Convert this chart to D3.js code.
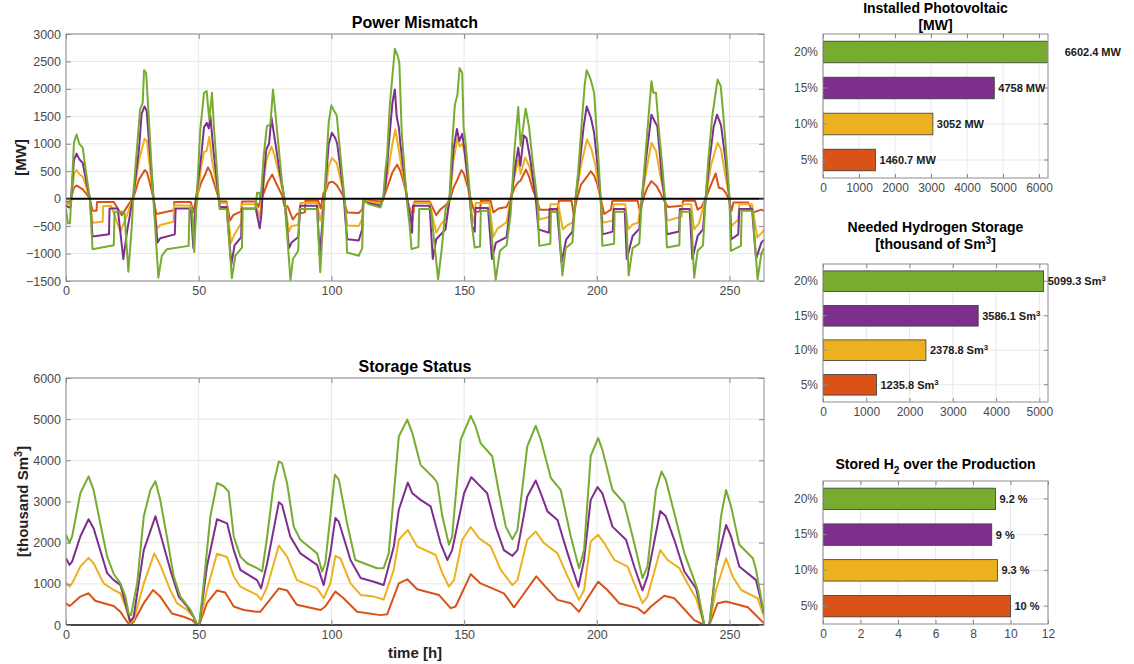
<!DOCTYPE html>
<html>
<head>
<meta charset="utf-8">
<title>PV and hydrogen storage</title>
<script src="https://cdn.jsdelivr.net/npm/d3@7"></script>
<style>
    body { margin: 0; background: #ffffff; }
    svg { font-family: "Liberation Sans", Arial, Helvetica, sans-serif; }
</style>
</head>
<body>
<svg id="chart" width="1134" height="664"></svg>
<script>
/*global d3*/

//share levels and the matlab colours used for them
var levels = ["5%", "10%", "15%", "20%"],
    levelColors = ["#D95319", "#EDB120", "#7E2F8E", "#77AC30"];

//right hand bar charts
var pvInstalled = [1460.7, 3052, 4758, 6602.4],          // [MW]
    h2Needed = [1235.8, 2378.8, 3586.1, 5099.3],         // [thousand Sm3]
    h2StoredShare = [10, 9.3, 9, 9.2];                   // [%]

//tick values
var hourTicks = [0, 50, 100, 150, 200, 250],
    mismatchTicks = [-1500, -1000, -500, 0, 500, 1000, 1500, 2000, 2500, 3000],
    storageTicks = [0, 1000, 2000, 3000, 4000, 5000, 6000],
    pvTicks = [0, 1000, 2000, 3000, 4000, 5000, 6000],
    h2Ticks = [0, 1000, 2000, 3000, 4000, 5000],
    shareTicks = [0, 2, 4, 6, 8, 10, 12];

var mismatch5 = [[0, -50], [1.5, -60], [3, 200], [4, 240], [5, 210], [6.3, 170], [7.5, 100], [9, 0], [10, -220], [11.5, -220], [11.7, -60], [18, -60], [21, -300], [23, -150],
    [25.5, 30], [27.5, 350], [29.7, 520], [30.5, 480], [31.5, 300], [33, 0], [34, -280], [40.6, -210], [40.8, -60], [47, -60], [48, -250], [49, 0],
    [51, 300], [52.5, 450], [53.5, 570], [54.5, 480], [56, 250], [57.9, -50], [60.5, -50], [61.8, -400], [63, -300], [66, -230], [66.3, -50], [71.5, -50], [72.5, -150], [73.5, 0],
    [74.5, 100], [76, 300], [77.7, 440], [79, 300], [81.5, 50], [82.3, -140], [83.5, -140], [85.5, -380], [87, -280], [90, -250], [90.2, -40], [95, -40], [96, -180], [97, 100],
    [98, 150], [99, 290], [100.5, 310], [102, 250], [104.5, 50], [105.3, -150], [106, -250], [110.3, -260], [111.6, -200], [112.1, -20], [114, -30], [118.5, -50], [119.5, 0],
    [121, 200], [123, 480], [124.8, 620], [126, 500], [128, 150], [129, -100], [130, -250], [131, -250], [131.3, -50], [137, -50], [139.5, -300], [141, -200], [143.5, -100], [144.8, 0],
    [146, 200], [147.5, 350], [149, 520], [150, 450], [152, 100], [153, -100], [154, -250], [156, -230], [156.3, -40], [160, -40], [161, -250], [163, -180], [166, -150], [167.5, 0],
    [169, 200], [170.4, 300], [171.3, 330], [173.3, 530], [174.5, 400], [176, 150], [177.6, -50], [178.5, -200], [182, -200], [185, -250], [185.7, -40], [190.5, -40], [191.3, -300], [192.5, 0],
    [194, 250], [196.3, 400], [197.7, 500], [199, 420], [200.3, 250], [201.5, 0], [202.8, -280], [205.3, -200], [205.9, -40], [215.4, -40], [216.3, -250], [217.5, 0],
    [219, 200], [220.6, 320], [222.5, 230], [224, 100], [225.5, -50], [226.8, -150], [232.2, -130], [232.5, -40], [237, -40], [238, -200], [239.5, -150], [241, 0],
    [243, 250], [244.8, 460], [246, 200], [247.4, 180], [248.7, 100], [250, -50], [250.8, -220], [251.5, -70], [257, -70], [259, -250], [262, -200], [263, -220]];
var mismatch10 = [[0, -80], [1, -100], [2, -50], [3, 450], [4, 520], [5, 450], [6.3, 400], [7.5, 230], [9, 0], [10, -440], [13.8, -420], [14, -140], [17, -130], [20.5, -600], [23, -300],
    [25.5, 60], [27.5, 700], [29.6, 1090], [30.5, 1050], [31.5, 600], [33, 0], [34.3, -550], [35.5, -480], [40.5, -420], [40.7, -120], [47, -130], [48, -500], [49.5, 0],
    [51, 600], [52, 850], [53, 870], [54, 1130], [55, 700], [57.9, -80], [60.5, -80], [62.2, -800], [63.5, -650], [66, -450], [66.3, -100], [71.5, -100], [73, -350], [74, 100],
    [75.5, 700], [77.4, 950], [78.5, 800], [80.5, 400], [82.3, 0], [84, -600], [85, -500], [87.5, -480], [88.3, -80], [94.6, -80], [95.8, -400], [97, -100],
    [98, 200], [99, 600], [100.2, 740], [102, 650], [104.6, 100], [105.3, -200], [106, -490], [110.3, -500], [111.6, -370], [112.1, -10], [114, -50], [118.5, -90], [119.5, 0],
    [121, 400], [123, 1000], [124.1, 1260], [125, 1000], [126, 700], [128.5, 0], [130, -300], [130.6, -400], [131, -80], [137, -80], [139.5, -620], [141.5, -450], [143.5, -350], [144.7, 0],
    [146, 700], [147.5, 1100], [148.3, 950], [149.3, 1000], [150.3, 800], [152, 0], [153, -300], [154, -450], [154.3, -80], [159.5, -80], [161, -700], [162.5, -550], [166, -430], [167.5, 0],
    [169, 400], [170.4, 700], [171.3, 450], [173, 750], [174.5, 600], [176, 300], [177.6, 0], [178.3, -380], [182.3, -330], [182.5, -100], [185.5, -100], [187.2, -560], [189, -480], [191, -430], [192, 0],
    [194, 600], [196.3, 1080], [198, 900], [199.5, 600], [201.5, 0], [202.2, -440], [206, -400], [206.4, -100], [210.7, -100], [211.8, -560], [213.5, -470], [215.5, -440], [217, 0],
    [219, 600], [220.6, 1020], [222.3, 870], [224, 400], [225.7, 0], [226.5, -400], [232, -330], [232.3, -100], [235.5, -100], [236.7, -560], [238.5, -450], [241, 0],
    [243, 600], [245.5, 1020], [246.8, 900], [248.5, 400], [250, 0], [250.7, -500], [253.3, -380], [253.7, -100], [258.5, -100], [260.5, -710], [262.5, -600], [263, -560]];
var mismatch15 = [[0, -120], [1, -160], [1.7, -150], [3, 700], [4, 820], [5, 720], [6.3, 650], [7.5, 350], [9, 0], [10, -690], [16.2, -650], [16.4, -180], [19.5, -180], [21.6, -1100], [23, -600],
    [25.5, 100], [27.5, 900], [28.5, 1550], [29.6, 1680], [30.4, 1600], [31.5, 900], [33, 0], [34.5, -800], [35.5, -720], [41, -650], [41.3, -180], [47, -180], [48, -900], [49, 0],
    [51, 800], [52, 1300], [53, 1380], [53.8, 1280], [54.4, 1500], [55.5, 900], [57.9, -150], [60.5, -150], [62.3, -1200], [63.5, -850], [66, -700], [66.3, -180], [71.5, -180], [73, -540], [73.6, -300],
    [74.5, 400], [75.5, 900], [76.5, 1000], [77.4, 1480], [78.3, 1200], [80.5, 500], [82.3, 0], [84, -900], [85, -800], [87.5, -700], [88.3, -130], [94.6, -130], [95.6, -1040], [97, -200],
    [98, 400], [99, 1000], [100.2, 1200], [101.5, 1100], [102.2, 1000], [104.6, 100], [105.3, -400], [106, -740], [110.3, -760], [111.6, -560], [112.1, -30], [114, -80], [118.5, -130], [119.5, 0],
    [120.5, 300], [122, 1200], [123, 1750], [123.9, 1990], [124.6, 1500], [125.4, 1300], [126, 1000], [128.5, 0], [130, -400], [130.4, -620], [130.7, -130], [137, -130], [138.2, -1100], [139.5, -740], [143, -560], [144.5, 0],
    [146, 900], [147.3, 1270], [148.2, 1050], [149.3, 1180], [150, 950], [152, 100], [153, -500], [154, -600], [154.3, -170], [159, -170], [160.5, -1100], [162, -800], [166, -700], [167.5, -100],
    [169, 500], [170.4, 930], [171.2, 600], [172.5, 1150], [173.5, 1100], [175, 700], [177, 0], [178, -560], [182, -620], [182.2, -190], [185, -190], [186.7, -1160], [188.5, -740], [190.8, -600], [192, 0],
    [193.5, 600], [195, 1300], [196.2, 1680], [197.8, 1470], [199, 1200], [200.5, 500], [201.5, -50], [202.2, -650], [206, -600], [206.4, -190], [210.5, -190], [211.3, -1100], [213.5, -680], [216, -550], [217, 0],
    [218.5, 700], [220, 1300], [220.6, 1530], [221.8, 1410], [222.8, 1320], [224.5, 400], [225.7, -50], [226.4, -650], [231, -600], [231.3, -190], [235, -190], [236, -1100], [238, -680], [240, -560], [241, 0],
    [242.5, 700], [244, 1300], [245.3, 1530], [246.8, 1340], [248.5, 700], [250, 0], [250.7, -740], [253.3, -650], [253.7, -190], [258.5, -190], [260, -1100], [262, -800], [263, -750]];
var mismatch20 = [[0, -190], [0.7, -450], [1.5, -450], [3, 1020], [4, 1170], [5, 1000], [6.3, 930], [7.5, 500], [9, 0], [10, -920], [18, -850], [18.3, -240], [22, -240], [23.5, -1330], [24.8, -500],
    [25.5, 170], [27.9, 1620], [28.9, 1750], [29.4, 2340], [30.2, 2290], [31.1, 1560], [33, -70], [34.8, -1440], [36.1, -1040], [38, -920], [46.2, -860], [46.5, -190], [47.5, -190], [48.3, -970], [49.3, 50],
    [50.6, 1260], [52, 1930], [53, 1960], [54, 1440], [55, 1930], [55.8, 1260], [57.9, -190], [60.6, -190], [62.5, -1450], [63.8, -1040], [66.3, -890], [66.6, -190], [71.3, -190], [72, 110], [72.8, 110], [73.3, -50],
    [74.5, 780], [75.7, 1320], [77, 1350], [78, 1990], [78.9, 1560], [81.4, 290], [82.3, -10], [84.6, -1480], [85.5, -1100], [87.5, -950], [88, -190], [94.6, -190], [95.8, -1340], [97, -300],
    [98, 600], [99, 1400], [100, 1700], [101, 1600], [102, 1520], [104.6, 170], [105.3, -200], [105.9, -980], [110.3, -1040], [111.6, -900], [112.1, -20], [114, -100], [118.5, -160], [119.5, 0],
    [120.3, 500], [121, 780], [122, 1700], [123.9, 2730], [125, 2600], [125.6, 2470], [126.5, 1200], [128.5, -70], [129.5, -500], [130.2, -920], [132.8, -880], [133.1, -190], [137.5, -190], [140.2, -1470], [141.5, -950], [143, -200],
    [144.5, 0], [145.5, 1000], [146.5, 1700], [147.5, 1900], [148.3, 2380], [149.3, 2290], [149.8, 1300], [150.5, 1050], [152, 200], [153, -500], [154, -890], [156, -870], [156.3, -220], [159.5, -220], [161.9, -1480], [163.5, -950], [166, -850], [167.5, -300],
    [169, 900], [170.4, 1670], [171.3, 960], [173.2, 1640], [174.5, 1300], [176, 600], [177.6, -30], [178.3, -860], [182.5, -820], [182.7, -240], [185.5, -240], [187, -1400], [188.3, -900], [190.8, -800], [192, 0],
    [193, 500], [194.5, 1500], [195.5, 2100], [196.2, 2340], [197.7, 2170], [199, 1930], [200.5, 800], [201.5, 0], [202.1, -860], [206.5, -820], [206.7, -240], [211, -240], [212, -1400], [213.5, -900], [216, -820], [217, 0],
    [218, 600], [219.5, 1500], [220.6, 2140], [221.3, 1930], [222.3, 1930], [223.5, 1200], [224.8, 530], [225.7, 0], [226.4, -890], [231.1, -850], [231.4, -240], [235.5, -240], [236.7, -1440], [238, -950], [240, -850], [241, 0],
    [242, 700], [243.5, 1500], [245.5, 2170], [246.7, 2050], [247.6, 1560], [249, 700], [250, 0], [250.5, -950], [254.3, -860], [254.6, -220], [258.7, -220], [260.6, -1470], [262, -1000], [263, -900]];

var storage5 = [[0, 530], [1.3, 460], [2.3, 510], [5.4, 690], [8.5, 770], [11, 590], [14.2, 530], [18, 460], [20.5, 320], [23, 80], [24.2, 0], [25.5, 80], [29.3, 530], [32.8, 850], [35.5, 690], [39.9, 280], [44.3, 200], [47.5, 120], [49.4, 0], [50.2, 0],
    [53.1, 530], [56.9, 840], [60, 790], [63.2, 450], [67, 365], [72, 320], [73.2, 320], [75.8, 530], [80.2, 890], [83.3, 840], [87, 490], [95.9, 365], [97.7, 450], [101.5, 810], [104.6, 650], [109.7, 320], [118.5, 240], [121, 260],
    [125.4, 1010], [128.6, 1110], [132.3, 870], [140.5, 730], [144.9, 410], [146.8, 450], [152.5, 1235], [156.2, 1010], [165, 770], [168.8, 430], [171.3, 650], [177.2, 1180], [180.1, 970], [185.2, 610], [190.2, 530], [193.3, 320],
    [196.5, 650], [200.5, 1050], [204, 850], [208.4, 530], [215.4, 410], [217.9, 280], [220.4, 450], [225.4, 710], [229.2, 650], [236.7, 120], [240.5, 0], [242.4, 0], [245.5, 530], [248.7, 570], [256.9, 430], [263, 40]];
var storage10 = [[0, 1030], [1.3, 930], [2.3, 1010], [5.4, 1420], [8.5, 1630], [10.4, 1500], [14.2, 1010], [18, 850], [20.5, 770], [22.4, 450], [24.2, 40], [25.5, 120], [29.3, 1010], [33.3, 1740], [35.5, 1460], [39.3, 850], [41.8, 530], [45.6, 365], [48.1, 200], [49.4, 0], [50.2, 0],
    [53.1, 850], [56.9, 1730], [60.7, 1650], [63.2, 1180], [65.7, 930], [72, 730], [73.5, 610], [75.8, 930], [80.2, 1930], [83.3, 1660], [87, 1090], [94.6, 890], [97.1, 650], [99.6, 1010], [101.5, 1680], [103.4, 1620], [107.2, 1010], [111, 730], [116, 690], [119.7, 620],
    [123.5, 1340], [125.4, 2070], [128.8, 2310], [132.3, 1910], [139.3, 1700], [141.8, 1260], [144.3, 930], [146.2, 1090], [149.3, 2070], [152.5, 2380], [155.6, 2110], [160, 1910], [163.8, 1340], [168.2, 970], [170.1, 1090], [173.8, 2070], [177, 2270], [180.1, 1990],
    [185.2, 1740], [189, 1180], [193.3, 610], [195.2, 850], [197.7, 2030], [200.5, 2190], [202.8, 1990], [206.6, 1580], [211.6, 1420], [214.1, 1010], [217.2, 530], [219.1, 690], [223.9, 1820], [226.7, 1580], [231.1, 1380], [234.2, 1010], [237.4, 650],
    [240.5, 0], [242.4, 0], [244.9, 850], [248.7, 1620], [251.2, 1180], [254.4, 850], [260.6, 650], [263, 200]];
var storage15 = [[0, 1620], [1.3, 1460], [2.3, 1540], [5.4, 2150], [8.5, 2570], [10.4, 2350], [15.5, 1260], [18, 1090], [20.5, 970], [22.4, 530], [24.2, 80], [25.5, 200], [29.3, 1820], [33.7, 2640], [35.5, 2230], [39.3, 1340], [42.5, 690], [45.6, 450], [48.1, 200], [49.4, 0], [50.2, 0],
    [53.1, 1420], [56.9, 2570], [60.7, 2470], [63.2, 1820], [65.7, 1340], [72, 1090], [73.5, 890], [75.8, 1500], [80.2, 2980], [81.4, 2920], [84.5, 2150], [88.3, 1740], [94.6, 1460], [97.1, 970], [99.6, 1740], [101.5, 2600], [102.8, 2510], [107.2, 1580], [111, 1140], [116, 1050], [119.7, 970],
    [123.5, 1900], [125.4, 2800], [128.8, 3460], [130.5, 3200], [133.6, 3040], [137.4, 2880], [141.1, 1990], [143.7, 1580], [145.5, 1820], [150, 3200], [152.7, 3590], [154.3, 3490], [158.7, 3200], [161.9, 2390], [165, 1820], [168.2, 1680], [170.1, 1820],
    [173.8, 3120], [177, 3510], [178.9, 3200], [181.4, 2760], [185.2, 2550], [189, 1740], [193.1, 930], [195.2, 1580], [197.7, 3040], [200.3, 3350], [202.1, 3200], [205.9, 2390], [211, 2070], [214.1, 1420], [217.2, 840], [219.1, 1180], [223.9, 2770], [226, 2640],
    [229.2, 2070], [233, 1300], [237.4, 890], [240.5, 0], [242.4, 0], [244.9, 1420], [248.7, 2430], [250.6, 2150], [253.7, 1420], [260, 1090], [263, 280]];
var storage20 = [[0, 2190], [1.3, 2000], [2.3, 2150], [5.4, 3200], [8.5, 3610], [10.4, 3280], [12.9, 2470], [15.5, 1660], [18, 1240], [20.5, 1010], [22.4, 690], [23.6, 280], [24.5, 240], [26.8, 1010], [29.3, 2640], [31.8, 3280], [33.7, 3490], [35.5, 3040], [38, 2150],
    [40.6, 1180], [43.1, 690], [46.9, 365], [48.1, 200], [49.4, 0], [50.2, 0], [51.9, 1010], [54.4, 2640], [56.9, 3450], [59.4, 3370], [61.3, 3240], [63.2, 2150], [65.7, 1660], [68.2, 1500], [72, 1380], [73.9, 1300], [75.8, 2150], [78.3, 3450], [80.2, 3970], [81.4, 3930],
    [83.3, 3450], [85.8, 2390], [88.3, 2070], [94.6, 1740], [96.5, 1300], [97.7, 1500], [99.6, 2640], [101.3, 3650], [102.8, 3530], [105.9, 2470], [109, 1580], [112.2, 1500], [117.2, 1380], [119.7, 1380], [121.6, 1740], [125.4, 4580], [128.6, 4990], [130.5, 4660],
    [133.6, 3890], [138.6, 3570], [139.9, 3450], [141.8, 2640], [144.3, 1950], [145.5, 2150], [148.7, 4500], [152.5, 5080], [154.3, 4830], [156.2, 4420], [160.6, 4100], [163.2, 3200], [165.7, 2390], [168.2, 2080], [170.1, 2310], [173.8, 4340], [177, 4840], [178.9, 4500],
    [182.7, 3570], [186.4, 3280], [190.2, 2150], [193.3, 1380], [195.2, 1820], [197.7, 4100], [200.5, 4540], [202.1, 4260], [205.9, 3280], [210.3, 2960], [214.1, 1990], [217.2, 1140], [219.1, 1420], [222.3, 3280], [224.4, 3730], [226, 3530], [229.2, 2720],
    [233, 1740], [236.7, 1090], [238, 850], [240.5, 0], [242.4, 0], [244.3, 1010], [246.8, 2640], [248.7, 3280], [250.6, 2880], [253.7, 1950], [258.8, 1620], [260, 1340], [263, 280]];

var svg = d3.select("#chart"),
    frameColor = "#8c8c8c",
    gridColor = "#e8e8e8",
    tickTextColor = "#4a4a4a",
    plainNumber = d3.format("d"),
    clipCount = 0;

//write text made of plain, superscript and subscript pieces
function richText(sel, parts, shift) {
    "use strict";
    var offset = 0;
    parts.forEach(function (p) {
        var target = p.sup ? -shift : (p.sub ? shift : 0),
            span = sel.append("tspan").attr("dy", target - offset).text(p.t);
        if (p.sup || p.sub) {
            span.attr("font-size", "72%");
        }
        offset = target;
    });
}

function addClip(x, y, w, h) {
    "use strict";
    var id = "clip" + (clipCount++);
    svg.append("clipPath").attr("id", id)
        .append("rect").attr("x", x).attr("y", y).attr("width", w).attr("height", h);
    return "url(#" + id + ")";
}

//inward ticks on all four sides, labels only bottom and left
function drawAxes(g, list, fontSize, tickLen) {
    "use strict";
    list.forEach(function (a) {
        var axis = a.axis.tickSize(-tickLen).tickSizeOuter(0).tickPadding(a.labels ? 5 : 0);
        if (!a.labels) {
            axis.tickFormat("");
        } else if (a.numeric) {
            axis.tickFormat(plainNumber);
        }
        var ax = g.append("g").attr("transform", "translate(" + a.x + "," + a.y + ")").call(axis);
        ax.select(".domain").remove();
        ax.selectAll(".tick line").attr("stroke", frameColor);
        ax.selectAll("text").attr("fill", tickTextColor).attr("font-size", fontSize);
    });
}

//time series panel (power mismatch / storage status)
function drawLinePanel(o) {
    "use strict";
    var x = d3.scaleLinear().domain([0, 263]).range([o.left, o.right]),
        y = d3.scaleLinear().domain(o.yDomain).range([o.bottom, o.top]),
        g = svg.append("g"),
        line = d3.line().x(function (d) { return x(d[0]); }).y(function (d) { return y(d[1]); });

    g.append("g").selectAll("line").data(hourTicks).enter().append("line")
        .attr("x1", function (d) { return x(d); }).attr("x2", function (d) { return x(d); })
        .attr("y1", o.top).attr("y2", o.bottom)
        .attr("stroke", gridColor);
    g.append("g").selectAll("line").data(o.yTicks).enter().append("line")
        .attr("x1", o.left).attr("x2", o.right)
        .attr("y1", function (d) { return y(d); }).attr("y2", function (d) { return y(d); })
        .attr("stroke", gridColor);

    var clip = addClip(o.left, o.top - 1, o.right - o.left, o.bottom - o.top + 2),
        lines = g.append("g").attr("clip-path", clip);
    o.series.forEach(function (s, i) {
        lines.append("path").datum(s)
            .attr("d", line)
            .attr("fill", "none")
            .attr("stroke", levelColors[i])
            .attr("stroke-width", 2)
            .attr("stroke-linejoin", "round");
    });
    //black zero line
    lines.append("line")
        .attr("x1", x(0)).attr("x2", x(263))
        .attr("y1", y(0)).attr("y2", y(0))
        .attr("stroke", "#000").attr("stroke-width", 2);

    g.append("rect")
        .attr("x", o.left).attr("y", o.top)
        .attr("width", o.right - o.left).attr("height", o.bottom - o.top)
        .attr("fill", "none").attr("stroke", frameColor);

    drawAxes(g, [
        {axis: d3.axisBottom(x).tickValues(hourTicks), x: 0, y: o.bottom, labels: true, numeric: true},
        {axis: d3.axisTop(x).tickValues(hourTicks), x: 0, y: o.top},
        {axis: d3.axisLeft(y).tickValues(o.yTicks), x: o.left, y: 0, labels: true, numeric: true},
        {axis: d3.axisRight(y).tickValues(o.yTicks), x: o.right, y: 0}
    ], 12.5, 5);

    svg.append("text")
        .attr("x", (o.left + o.right) / 2).attr("y", o.top - 6)
        .attr("text-anchor", "middle").attr("font-weight", "bold").attr("font-size", 16)
        .attr("fill", "#000").text(o.title);
    var yl = svg.append("text")
        .attr("transform", "translate(" + o.yLabelX + "," + ((o.top + o.bottom) / 2) + ") rotate(-90)")
        .attr("text-anchor", "middle").attr("font-weight", "bold").attr("font-size", 15)
        .attr("fill", "#222");
    richText(yl, o.yLabel, 6);
}

//horizontal bar panel on the right
function drawBarPanel(o) {
    "use strict";
    var left = 823,
        right = 1048,
        x = d3.scaleLinear().domain([0, o.max]).range([left, right]),
        y = d3.scaleBand().domain(levels.slice().reverse()).range([o.top, o.bottom])
            .paddingInner(0.4).paddingOuter(0.2),
        g = svg.append("g");

    g.append("g").selectAll("line").data(o.ticks).enter().append("line")
        .attr("x1", function (d) { return x(d); }).attr("x2", function (d) { return x(d); })
        .attr("y1", o.top).attr("y2", o.bottom)
        .attr("stroke", gridColor);
    g.append("g").selectAll("line").data(levels).enter().append("line")
        .attr("x1", left).attr("x2", right)
        .attr("y1", function (d) { return y(d) + y.bandwidth() / 2; })
        .attr("y2", function (d) { return y(d) + y.bandwidth() / 2; })
        .attr("stroke", gridColor);

    var clip = addClip(left, o.top, right - left, o.bottom - o.top);
    g.append("g").attr("clip-path", clip).selectAll("rect").data(o.values).enter().append("rect")
        .attr("x", x(0))
        .attr("y", function (d, i) { return y(levels[i]); })
        .attr("width", function (d) { return x(d) - x(0); })
        .attr("height", y.bandwidth())
        .attr("fill", function (d, i) { return levelColors[i]; })
        .attr("stroke", "#3a3a3a").attr("stroke-width", 0.8);

    g.append("rect")
        .attr("x", left).attr("y", o.top)
        .attr("width", right - left).attr("height", o.bottom - o.top)
        .attr("fill", "none").attr("stroke", frameColor);

    drawAxes(g, [
        {axis: d3.axisBottom(x).tickValues(o.ticks), x: 0, y: o.bottom, labels: true, numeric: true},
        {axis: d3.axisTop(x).tickValues(o.ticks), x: 0, y: o.top},
        {axis: d3.axisLeft(y), x: left, y: 0, labels: true},
        {axis: d3.axisRight(y), x: right, y: 0}
    ], 12, 4);

    //value labels next to the bars
    o.values.forEach(function (v, i) {
        var t = g.append("text")
            .attr("x", x(v) + 4)
            .attr("y", y(levels[i]) + y.bandwidth() / 2 + 4)
            .attr("font-weight", "bold").attr("font-size", 11).attr("fill", "#1a1a1a");
        richText(t, o.label(v), 4);
    });

    o.title.forEach(function (line, k) {
        var t = svg.append("text")
            .attr("x", (left + right) / 2).attr("y", o.titleY + k * 17)
            .attr("text-anchor", "middle").attr("font-weight", "bold").attr("font-size", 14)
            .attr("fill", "#000");
        richText(t, line, 5);
    });
}

drawLinePanel({
    left: 66, right: 764, top: 34, bottom: 281,
    yDomain: [-1500, 3000], yTicks: mismatchTicks,
    series: [mismatch5, mismatch10, mismatch15, mismatch20],
    title: "Power Mismatch",
    yLabel: [{t: "[MW]"}], yLabelX: 26
});
drawLinePanel({
    left: 66, right: 764, top: 378, bottom: 625,
    yDomain: [0, 6000], yTicks: storageTicks,
    series: [storage5, storage10, storage15, storage20],
    title: "Storage Status",
    yLabel: [{t: "[thousand Sm"}, {t: "3", sup: true}, {t: "]"}], yLabelX: 28
});
svg.append("text")
    .attr("x", 415).attr("y", 658)
    .attr("text-anchor", "middle").attr("font-weight", "bold").attr("font-size", 15)
    .attr("fill", "#222").text("time [h]");

drawBarPanel({
    top: 34, bottom: 178, max: 6250, ticks: pvTicks, values: pvInstalled,
    title: [[{t: "Installed Photovoltaic"}], [{t: "[MW]"}]], titleY: 13,
    label: function (v) { return [{t: v + " MW"}]; }
});
drawBarPanel({
    top: 264, bottom: 402, max: 5200, ticks: h2Ticks, values: h2Needed,
    title: [[{t: "Needed Hydrogen Storage"}], [{t: "[thousand of Sm"}, {t: "3", sup: true}, {t: "]"}]], titleY: 232,
    label: function (v) { return [{t: v + " Sm"}, {t: "3", sup: true}]; }
});
drawBarPanel({
    top: 481, bottom: 624, max: 12, ticks: shareTicks, values: h2StoredShare,
    title: [[{t: "Stored H"}, {t: "2", sub: true}, {t: " over the Production"}]], titleY: 469,
    label: function (v) { return [{t: v + " %"}]; }
});
</script>
</body>
</html>
